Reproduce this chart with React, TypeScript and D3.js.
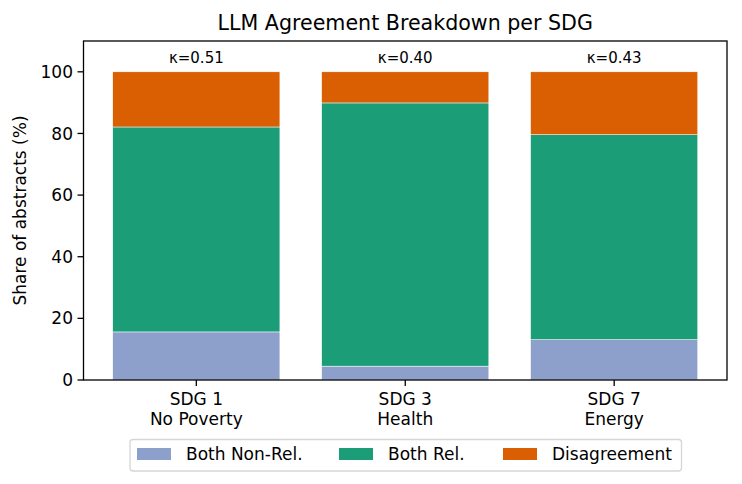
import React from "react";
import * as d3 from "d3";

// Per-SDG agreement breakdown (share of abstracts, %)
const categories = ["SDG 1\nNo Poverty", "SDG 3\nHealth", "SDG 7\nEnergy"];
const bothNonRel = [15.6, 4.5, 13.1];
const bothRel = [66.5, 85.4, 66.5];
const disagreement = [17.9, 10.1, 20.4];
const kappaLabels = ["κ=0.51", "κ=0.40", "κ=0.43"];
const seriesNames = ["Both Non-Rel.", "Both Rel.", "Disagreement"];
const seriesColors = ["#8da0cb", "#1b9e77", "#d95f02"];
const yTicks = [0, 20, 40, 60, 80, 100];

const W = 742;
const H = 484;
const M = { left: 83.5, right: 727, top: 41, bottom: 380 };
const FONT = "DejaVu Sans, sans-serif";
const FS = 17;

export default function App() {
  const x = d3.scaleLinear().domain([-0.54, 2.54]).range([M.left, M.right]);
  const y = d3.scaleLinear().domain([0, 110]).range([M.bottom, M.top]);
  const barW = x(0.8) - x(0);

  const rows = categories.map((c, i) => ({
    c,
    i,
    vals: [bothNonRel[i], bothRel[i], disagreement[i]],
  }));
  const stack = d3.stack<any>().keys(["0", "1", "2"]).value((d, k) => d.vals[+k]);
  const layers = stack(rows);

  const legendX = [137, 339, 503];

  return (
    <svg width={W} height={H} style={{ display: "block", position: "absolute", left: 0, top: 0 }} fontFamily={FONT}>
      <rect x={0} y={0} width={W} height={H} fill="#fff" />
      <text x={(M.left + M.right) / 2} y={30} textAnchor="middle" fontSize={20.6} fill="#000">
        LLM Agreement Breakdown per SDG
      </text>

      {layers.map((layer, li) =>
        layer.map((seg, i) => (
          <rect
            key={`${li}-${i}`}
            x={x(i) - barW / 2}
            y={y(seg[1])}
            width={barW}
            height={y(seg[0]) - y(seg[1])}
            fill={seriesColors[li]}
            stroke="#fff"
            strokeWidth={0.5}
          />
        ))
      )}

      {kappaLabels.map((k, i) => (
        <text key={k} x={x(i)} y={62.5} textAnchor="middle" fontSize={15} fill="#000">
          {k}
        </text>
      ))}

      {/* axes frame */}
      <rect x={M.left} y={M.top} width={M.right - M.left} height={M.bottom - M.top} fill="none" stroke="#000" strokeWidth={1.3} />

      {yTicks.map((t) => (
        <g key={t}>
          <line x1={M.left - 6} x2={M.left} y1={y(t)} y2={y(t)} stroke="#000" strokeWidth={1.3} />
          <text x={M.left - 10.5} y={y(t)} dy="0.36em" textAnchor="end" fontSize={FS} fill="#000">
            {t}
          </text>
        </g>
      ))}

      {categories.map((c, i) => (
        <g key={c}>
          <line x1={x(i)} x2={x(i)} y1={M.bottom} y2={M.bottom + 6} stroke="#000" strokeWidth={1.3} />
          {c.split("\n").map((line, j) => (
            <text key={j} x={x(i)} y={405 + j * 20.2} textAnchor="middle" fontSize={FS} fill="#000">
              {line}
            </text>
          ))}
        </g>
      ))}

      <text
        transform={`translate(26, ${(M.top + M.bottom) / 2}) rotate(-90)`}
        textAnchor="middle"
        fontSize={FS}
        fill="#000"
      >
        Share of abstracts (%)
      </text>

      {/* legend */}
      <g>
        <rect x={130} y={439.5} width={551.5} height={31.5} rx={3} fill="#fff" stroke="#d6d6d6" strokeWidth={1.3} />
        {seriesNames.map((n, i) => (
          <g key={n}>
            <rect x={legendX[i]} y={448} width={34} height={12} fill={seriesColors[i]} />
            <text x={legendX[i] + 49} y={454} dy="0.36em" fontSize={FS} fill="#000">
              {n}
            </text>
          </g>
        ))}
      </g>
    </svg>
  );
}
